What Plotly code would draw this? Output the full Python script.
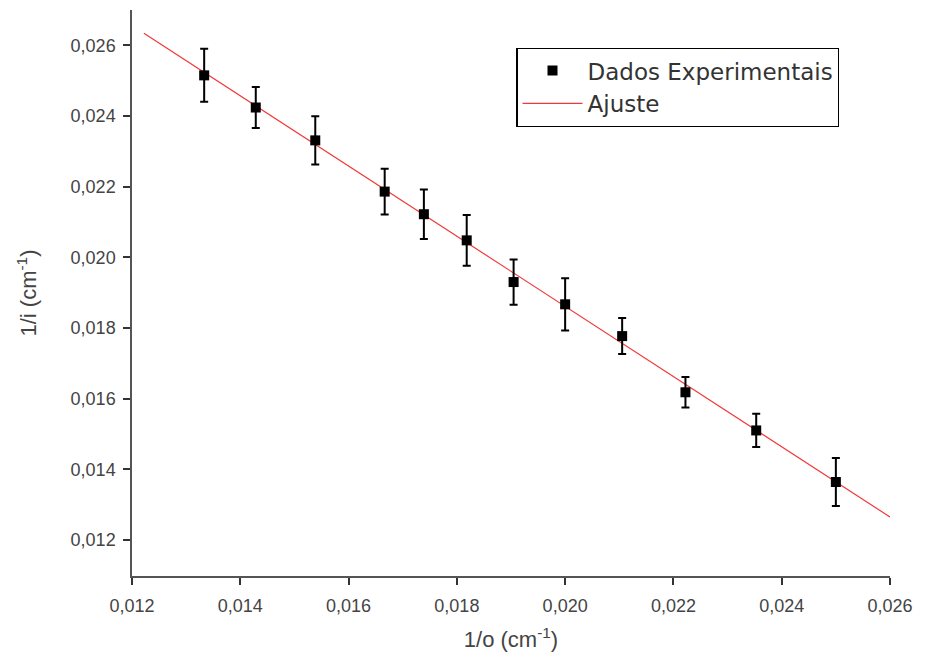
import plotly.graph_objects as go

# Data
x_vals = [0.013333, 0.014286, 0.015385, 0.016667, 0.017391, 0.018182,
          0.019048, 0.020000, 0.021053, 0.022222, 0.023529, 0.025000]
y_vals = [0.02515, 0.02424, 0.02331, 0.02186, 0.02122, 0.02048,
          0.01930, 0.01867, 0.01777, 0.01618, 0.01510, 0.01364]
y_err = [0.00075, 0.00058, 0.00068, 0.00065, 0.00070, 0.00072,
         0.00064, 0.00074, 0.00051, 0.00043, 0.00047, 0.00068]
fit_x = [0.01222, 0.02600]
fit_y = [0.02634, 0.01265]

x_ticks = [0.012, 0.014, 0.016, 0.018, 0.020, 0.022, 0.024, 0.026]
y_ticks = [0.012, 0.014, 0.016, 0.018, 0.020, 0.022, 0.024, 0.026]

FONT = "Liberation Sans, Arial"

fig = go.Figure()
fig.add_trace(go.Scatter(
    x=fit_x, y=fit_y, mode="lines", name="Ajuste",
    line=dict(color="#f03a3a", width=1.2), showlegend=True,
))
fig.add_trace(go.Scatter(
    x=x_vals, y=y_vals, mode="markers", name="Dados Experimentais",
    marker=dict(symbol="square", size=10, color="black"),
    error_y=dict(type="data", array=y_err, visible=True, color="black",
                 thickness=2, width=4),
))

axis_common = dict(
    showline=True, linecolor="#555555", linewidth=1.5,
    ticks="outside", ticklen=7, tickwidth=1.5, tickcolor="#333333",
    showgrid=False, zeroline=False, mirror=False,
    tickformat=".3f",
    tickfont=dict(family=FONT, size=18, color="#444444"),
    minor=dict(ticks="outside", ticklen=4, tickwidth=1, tickcolor="#555555", nticks=2),
)

fig.update_layout(
    width=933, height=658,
    margin=dict(l=132, r=43, t=10, b=82),
    paper_bgcolor="white", plot_bgcolor="white",
    separators=",.",
    legend=dict(
        traceorder="reversed",
        x=0.507, y=0.933, xanchor="left", yanchor="top",
        bordercolor="black", borderwidth=1.2, bgcolor="white",
        font=dict(family="DejaVu Sans", size=23, color="#333333"),
        tracegroupgap=0, itemwidth=60,
    ),
    xaxis=dict(
        range=[0.012, 0.026], tickvals=x_ticks,
        ticklabelstandoff=6,
        title=dict(text="1/o (cm<sup>-1</sup>)", standoff=16,
                   font=dict(family=FONT, size=22, color="#444444")),
        **axis_common,
    ),
    yaxis=dict(
        range=[0.01098, 0.0270], tickvals=y_ticks,
        ticklabelstandoff=4,
        title=dict(text="1/i (cm<sup>-1</sup>)", standoff=28,
                   font=dict(family=FONT, size=22, color="#444444")),
        **axis_common,
    ),
)

fig.write_html("out.html")
